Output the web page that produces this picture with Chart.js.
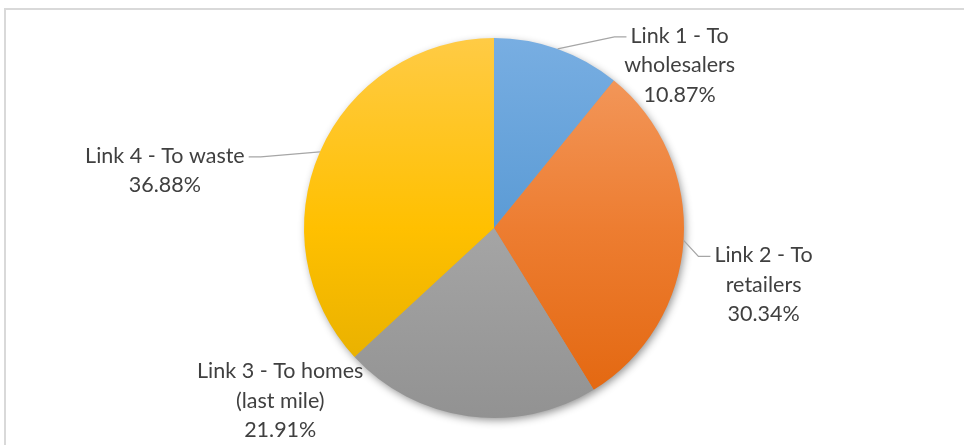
<!DOCTYPE html>
<html>
<head>
<meta charset="utf-8">
<script src="https://cdn.jsdelivr.net/npm/chart.js@4/dist/chart.umd.min.js"></script>
<style>
  html, body { margin: 0; padding: 0; background: #fff; overflow: hidden; }
  #frame {
    position: absolute; left: 4px; top: 8px; width: 1000px; height: 500px;
    border-top: 2px solid #d9d9d9; border-left: 2px solid #d9d9d9;
  }
  #wrap { position: absolute; left: 0; top: 0; width: 964px; height: 445px; }
</style>
</head>
<body>
<div id="frame"></div>
<div id="wrap"><canvas id="pie"></canvas></div>
<script>
/* ---- data ---- */
const categories = [
  "Link 1 - To wholesalers",
  "Link 2 - To retailers",
  "Link 3 - To homes (last mile)",
  "Link 4 - To waste"
];
const shares = [10.87, 30.34, 21.91, 36.88];
const labelLines = [
  ["Link 1 - To", "wholesalers"],
  ["Link 2 - To", "retailers"],
  ["Link 3 - To homes", "(last mile)"],
  ["Link 4 - To waste"]
];

/* ---- look ---- */
const gradStops = [
  ["#78aee2", "#5b9bd5", "#3f86cf"],
  ["#f49d64", "#ed7d31", "#e2650c"],
  ["#bdbdbd", "#a5a5a5", "#929292"],
  ["#ffcb45", "#ffc000", "#e0ab00"]
];
// label placement relative to the slice's outer midpoint (dx, dy to first line centre)
const labelPos = [
  { dx: 122, dy: -13, leader: "left" },
  { dx: 80, dy: 15, leader: "left" },
  { dx: -188, dy: -45, leader: null },
  { dx: -155, dy: 4, leader: "right" }
];
const FONT = '21.5px "Lato", "Open Sans", sans-serif';
const LINE_H = 29.5;
const TEXT_COLOR = "#404040";
const LEADER_COLOR = "#a6a6a6";

function sliceFill(ctx) {
  const chart = ctx.chart;
  const area = chart.chartArea;
  const s = gradStops[ctx.dataIndex];
  if (!area) return s[1];
  const r = Math.min(area.right - area.left, area.bottom - area.top) / 2;
  const cy = (area.top + area.bottom) / 2;
  const g = chart.ctx.createLinearGradient(0, cy - r, 0, cy + r);
  g.addColorStop(0, s[0]);
  g.addColorStop(0.5, s[1]);
  g.addColorStop(1, s[2]);
  return g;
}

const shadowPlugin = {
  id: "pieShadow",
  beforeDatasetsDraw(chart) {
    const arc = chart.getDatasetMeta(0).data[0];
    if (!arc) return;
    const c = chart.ctx;
    c.save();
    c.shadowColor = "rgba(0,0,0,0.45)";
    c.shadowBlur = 9;
    c.shadowOffsetX = 2;
    c.shadowOffsetY = 3;
    c.fillStyle = "#999";
    c.beginPath();
    c.arc(arc.x, arc.y, arc.outerRadius - 1, 0, Math.PI * 2);
    c.fill();
    c.restore();
  }
};

const labelPlugin = {
  id: "sliceLabels",
  afterDatasetsDraw(chart) {
    const c = chart.ctx;
    const meta = chart.getDatasetMeta(0);
    c.save();
    c.font = FONT;
    c.textAlign = "center";
    c.textBaseline = "middle";
    meta.data.forEach((arc, i) => {
      const mid = (arc.startAngle + arc.endAngle) / 2;
      const ax = arc.x + Math.cos(mid) * arc.outerRadius;
      const ay = arc.y + Math.sin(mid) * arc.outerRadius;
      const p = labelPos[i];
      const cx = ax + p.dx, cy = ay + p.dy;
      const lines = labelLines[i].concat([shares[i].toFixed(2) + "%"]);

      if (p.leader) {
        const w = c.measureText(lines[0]).width;
        const side = p.leader === "left" ? -1 : 1;
        const endX = cx + side * (w / 2 + 4);
        const elbowX = endX + side * 12;
        c.strokeStyle = LEADER_COLOR;
        c.lineWidth = 1.3;
        c.beginPath();
        c.moveTo(ax, ay);
        c.lineTo(elbowX, cy + 1);
        c.lineTo(endX, cy + 1);
        c.stroke();
      }

      c.fillStyle = TEXT_COLOR;
      lines.forEach((t, k) => c.fillText(t, cx, cy + k * LINE_H));
    });
    c.restore();
  }
};

new Chart(document.getElementById("pie"), {
  type: "pie",
  data: {
    labels: categories,
    datasets: [{
      data: shares,
      backgroundColor: sliceFill,
      borderWidth: 0
    }]
  },
  options: {
    responsive: true,
    maintainAspectRatio: false,
    animation: false,
    layout: { padding: { left: 24, right: 0, top: 38, bottom: 27 } },
    plugins: {
      legend: { display: false },
      tooltip: { enabled: false }
    }
  },
  plugins: [shadowPlugin, labelPlugin]
});
</script>
</body>
</html>
